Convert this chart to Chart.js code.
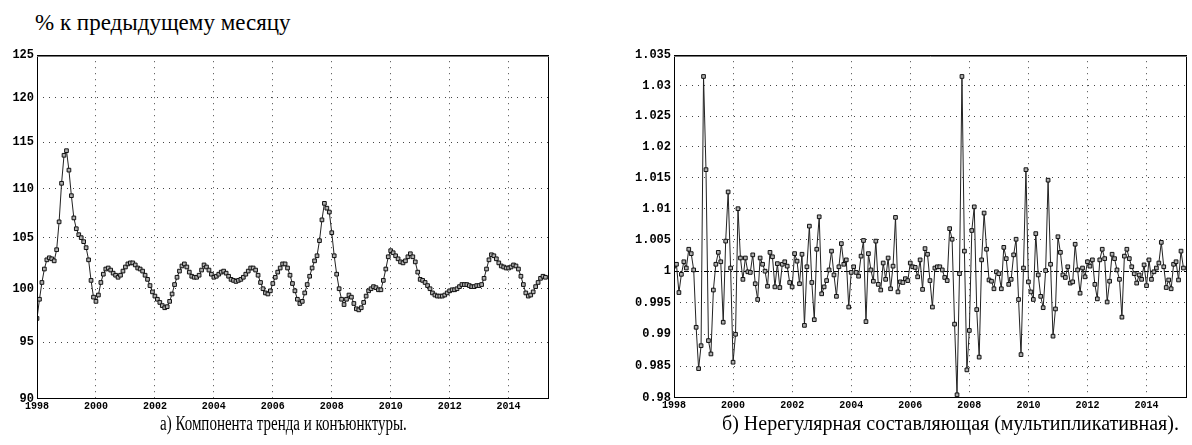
<!DOCTYPE html>
<html>
<head>
<meta charset="utf-8">
<script src="https://cdn.jsdelivr.net/npm/chart.js@4.4.1/dist/chart.umd.min.js"></script>
<style>
  body { margin: 0; background: #fff; width: 1192px; height: 445px; position: relative; overflow: hidden; }
  canvas { position: absolute; }
  #unit { position: absolute; left: 35px; top: 10px; font: 23px "Liberation Serif", serif; color: #000; white-space: nowrap; }
  .cap { position: absolute; top: 412px; font: 20px "Liberation Serif", serif; color: #000; white-space: nowrap; transform-origin: left top; }
</style>
</head>
<body>
<div id="unit">% к предыдущему месяцу</div>
<canvas id="trendChart" width="560" height="372" style="left:0;top:45px"></canvas>
<canvas id="irregChart" width="592" height="372" style="left:600px;top:45px"></canvas>
<div class="cap" id="capA" style="left:160px;transform:scaleX(0.75)">а) Компонента тренда и конъюнктуры.</div>
<div class="cap" id="capB" style="left:722px;transform:scaleX(1.0)">б) Нерегулярная составляющая (мультипликативная).</div>
<script>
// monthly data, Jan 1998 .. Apr 2015
const startYear = 1998;
const xMax = 2015.37;
const yearTicks = [1998, 2000, 2002, 2004, 2006, 2008, 2010, 2012, 2014];

const trendTicks = [90, 95, 100, 105, 110, 115, 120, 125];
const irregTicks = [0.98, 0.985, 0.99, 0.995, 1, 1.005, 1.01, 1.015, 1.02, 1.025, 1.03, 1.035];
const irregTickLabels = ['0.98', '0.985', '0.99', '0.995', '1', '1.005', '1.01', '1.015', '1.02', '1.025', '1.03', '1.035'];

const trend = [
  97.2, 99.0, 100.6, 101.9, 102.8, 103.0, 102.9, 102.7, 103.8, 106.6, 110.6, 113.6,
  114.1, 112.0, 109.3, 107.0, 105.9, 105.3, 105.0, 104.6, 104.0, 102.8, 100.8, 99.2,
  98.8, 99.4, 100.6, 101.4, 101.9, 102.0, 101.8, 101.5, 101.3, 101.1, 101.3, 101.7,
  102.1, 102.4, 102.5, 102.5, 102.3, 102.0, 101.9, 101.7, 101.3, 100.9, 100.3, 99.7,
  99.3, 99.0, 98.7, 98.4, 98.2, 98.3, 98.8, 99.5, 100.4, 101.1, 101.7, 102.2,
  102.4, 102.1, 101.6, 101.2, 101.1, 101.1, 101.3, 101.8, 102.3, 102.1, 101.8, 101.4,
  101.1, 101.2, 101.4, 101.6, 101.7, 101.5, 101.2, 100.9, 100.8, 100.7, 100.8, 100.9,
  101.1, 101.4, 101.7, 102.0, 102.0, 101.8, 101.3, 100.6, 100.0, 99.6, 99.5, 99.8,
  100.5, 101.1, 101.6, 102.0, 102.4, 102.4, 102.0, 101.3, 100.5, 99.8, 99.0, 98.6,
  98.8, 99.6, 100.4, 101.2, 102.0, 102.7, 103.2, 104.7, 106.8, 108.5, 108.0, 107.6,
  105.5, 103.2, 101.4, 100.0, 99.0, 98.5, 99.0, 99.4, 99.2, 98.6, 98.1, 98.0,
  98.2, 98.7, 99.3, 99.8, 100.0, 100.2, 100.1, 99.9, 99.9, 100.8, 101.9, 103.1,
  103.7, 103.5, 103.2, 102.9, 102.6, 102.5, 102.7, 103.1, 103.4, 103.1, 102.6, 101.6,
  100.9, 100.8, 100.6, 100.3, 100.0, 99.6, 99.4, 99.3, 99.3, 99.3, 99.4, 99.6,
  99.8, 99.9, 99.9, 100.0, 100.2, 100.4, 100.4, 100.4, 100.3, 100.2, 100.2, 100.3,
  100.3, 100.4, 101.0, 101.9, 102.8, 103.3, 103.2, 102.9, 102.5, 102.2, 102.1, 102.0,
  102.0, 102.1, 102.3, 102.2, 101.9, 101.2, 100.4, 99.6, 99.3, 99.4, 99.7, 100.2,
  100.6, 101.0, 101.2, 101.1
];

const irregular = [
  1.0008, 1.0011, 0.9966, 0.9995, 1.0015, 1.0005, 1.0035, 1.0028, 1.0002, 0.9911, 0.9846, 0.9882,
  1.0315, 1.0163, 0.9890, 0.9869, 0.9970, 1.0011, 1.0030, 1.0015, 0.9919, 1.0048, 1.0127, 1.0005,
  0.9856, 0.9900, 1.0100, 1.0021, 0.9987, 1.0021, 0.9999, 0.9998, 1.0026, 0.9980, 0.9955, 1.0021,
  1.0011, 1.0000, 0.9976, 1.0030, 1.0023, 0.9975, 1.0012, 0.9974, 1.0011, 1.0015, 1.0008, 0.9982,
  0.9975, 1.0028, 1.0016, 0.9980, 1.0027, 0.9914, 1.0007, 1.0072, 0.9982, 0.9923, 1.0035, 1.0087,
  0.9964, 0.9975, 0.9985, 1.0002, 1.0032, 0.9994, 0.9960, 1.0007, 1.0044, 1.0011, 1.0018, 0.9943,
  0.9998, 1.0007, 0.9998, 0.9992, 1.0024, 1.0049, 0.9920, 1.0028, 1.0002, 0.9984, 1.0048, 0.9979,
  0.9970, 1.0013, 0.9987, 1.0021, 0.9972, 1.0008, 1.0086, 0.9967, 0.9983, 0.9982, 0.9988, 0.9985,
  1.0013, 1.0007, 1.0006, 0.9991, 1.0018, 0.9971, 1.0036, 1.0027, 0.9985, 0.9943, 1.0005, 1.0007,
  1.0007, 1.0002, 0.9990, 0.9985, 1.0068, 1.0051, 0.9916, 0.9805, 0.9996, 1.0315, 1.0032, 0.9844,
  0.9906, 1.0065, 1.0103, 0.9939, 0.9864, 1.0018, 1.0093, 1.0035, 0.9986, 0.9984, 0.9972, 0.9999,
  0.9996, 0.9972, 1.0038, 1.0020, 0.9979, 0.9987, 1.0026, 1.0051, 0.9955, 0.9868, 1.0005, 1.0163,
  0.9983, 0.9967, 0.9955, 1.0060, 0.9994, 0.9960, 0.9942, 1.0001, 1.0146, 1.0011, 0.9897, 0.9940,
  1.0055, 1.0030, 0.9994, 0.9990, 1.0007, 0.9981, 0.9983, 1.0043, 1.0002, 0.9965, 1.0005, 0.9991,
  1.0015, 1.0008, 1.0018, 0.9979, 0.9956, 1.0018, 1.0035, 1.0020, 0.9951, 0.9984, 1.0027, 1.0020,
  1.0002, 0.9987, 0.9927, 1.0024, 1.0035, 1.0020, 1.0007, 0.9996, 0.9981, 0.9994, 0.9987, 1.0010,
  0.9977, 1.0018, 0.9987, 0.9999, 1.0005, 1.0013, 1.0046, 1.0007, 0.9974, 0.9986, 0.9972, 1.0011,
  1.0015, 0.9986, 1.0032, 1.0005
];

function toPoints(values) {
  return values.map((v, i) => ({ x: startYear + i / 12, y: v }));
}

// plot frame + optional reference line
const framePlugin = {
  id: 'frame',
  beforeDatasetsDraw(chart, args, opts) {
    if (opts.refLine == null) return;
    const { ctx, chartArea: a } = chart;
    const y = Math.round(chart.scales.y.getPixelForValue(opts.refLine)) + 0.5;
    ctx.save();
    ctx.strokeStyle = '#000';
    ctx.lineWidth = 1;
    ctx.setLineDash([5, 2, 1, 2]);
    ctx.beginPath();
    ctx.moveTo(a.left, y);
    ctx.lineTo(a.right, y);
    ctx.stroke();
    ctx.restore();
  },
  afterDatasetsDraw(chart) {
    const { ctx, chartArea: a } = chart;
    ctx.save();
    ctx.strokeStyle = '#000';
    ctx.lineWidth = 1;
    ctx.strokeRect(Math.round(a.left) + 0.5, Math.round(a.top) + 0.5, Math.round(a.width) - 1, Math.round(a.height) - 1);
    ctx.strokeStyle = '#777';
    ctx.beginPath();
    ctx.moveTo(a.left, Math.round(a.top) + 1.5);
    ctx.lineTo(a.right, Math.round(a.top) + 1.5);
    ctx.stroke();
    ctx.restore();
  }
};

function makeChart(id, values, yTicks, yLabel, yWidth, padRight, xHeight, refLine) {
  const ctx = document.getElementById(id).getContext('2d');
  return new Chart(ctx, {
    type: 'line',
    data: {
      datasets: [{
        data: toPoints(values),
        borderColor: '#222',
        borderWidth: 1,
        backgroundColor: '#b0b0b0',
        pointStyle: 'rect',
        pointRadius: 2.6,
        pointBorderColor: '#111',
        pointBorderWidth: 1,
        tension: 0,
        fill: false
      }]
    },
    options: {
      responsive: false,
      animation: false,
      layout: { padding: { top: 10, right: padRight, left: 0, bottom: 0 } },
      plugins: {
        legend: { display: false },
        tooltip: { enabled: false },
        frame: { refLine: refLine }
      },
      scales: {
        x: {
          type: 'linear',
          min: startYear,
          max: xMax,
          afterBuildTicks: s => { s.ticks = yearTicks.map(v => ({ value: v })); },
          afterFit: s => { s.height = xHeight; },
          ticks: {
            padding: 1,
            maxRotation: 0,
            color: '#000',
            font: { family: 'Liberation Mono', size: 10, weight: 'bold' },
            callback: v => String(v)
          },
          grid: {
            drawTicks: false,
            color: ctx => (ctx.tick && ctx.tick.value === startYear ? 'rgba(0,0,0,0)' : '#444'),
            lineWidth: 1
          },
          border: { display: false, dash: [1, 5] }
        },
        y: {
          type: 'logarithmic',
          min: yTicks[0],
          max: yTicks[yTicks.length - 1],
          afterBuildTicks: s => { s.ticks = yTicks.map(v => ({ value: v })); },
          afterFit: s => { s.width = yWidth; },
          ticks: {
            padding: 3,
            color: '#000',
            font: { family: 'Liberation Mono', size: 12, weight: 'bold' },
            callback: v => yLabel(v)
          },
          grid: {
            drawTicks: false,
            color: ctx => {
              const v = ctx.tick && ctx.tick.value;
              return (v === yTicks[0] || v === yTicks[yTicks.length - 1]) ? 'rgba(0,0,0,0)' : '#444';
            },
            lineWidth: 1
          },
          border: { display: false, dash: [1, 5] }
        }
      }
    },
    plugins: [framePlugin]
  });
}

makeChart('trendChart', trend, trendTicks, v => String(v), 37, 11, 18, null);
makeChart('irregChart', irregular, irregTicks,
  v => irregTickLabels[irregTicks.indexOf(v)] || '', 74, 3, 19, 1);
</script>
</body>
</html>
